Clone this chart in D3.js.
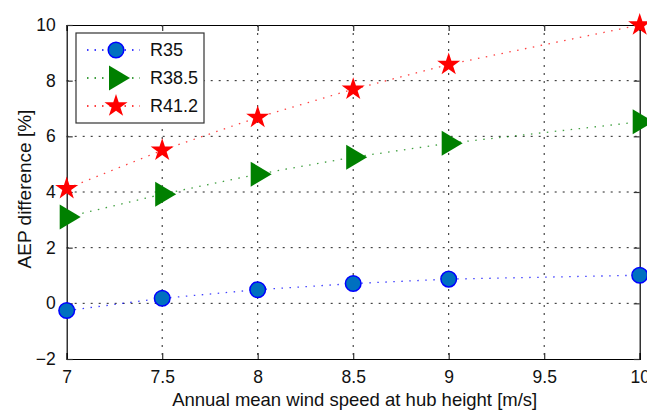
<!DOCTYPE html>
<meta charset="utf-8">
<script src="https://d3js.org/d3.v7.min.js"></script>
<style>
  body { margin: 0; background: #fff; }
  text { font-family: "Liberation Sans", Arial, sans-serif; }
</style>
<div id="my_dataviz"></div>
<script>

// data
var speeds = [7, 7.5, 8, 8.5, 9, 10];
var r35   = [-0.26, 0.18, 0.49, 0.71, 0.87, 1.01];
var r38_5 = [3.1, 3.92, 4.64, 5.25, 5.75, 6.52];
var r41_2 = [4.12, 5.5, 6.68, 7.69, 8.58, 10.0];
var seriesNames = ["R35", "R38.5", "R41.2"];
var xTicks = [7, 7.5, 8, 8.5, 9, 9.5, 10];
var yTicks = [-2, 0, 2, 4, 6, 8, 10];

var W = 647, H = 410;
var margin = {top: 25, right: 7.3, bottom: 51, left: 66.7},
    width = W - margin.left - margin.right,
    height = H - margin.top - margin.bottom;

var svg = d3.select("#my_dataviz")
  .append("svg")
    .attr("width", W)
    .attr("height", H)
  .append("g")
    .attr("transform", "translate(" + margin.left + "," + margin.top + ")");

var x = d3.scaleLinear().domain([7, 10]).range([0, width]);
var y = d3.scaleLinear().domain([-2, 10]).range([height, 0]);

// grid
svg.append("g").selectAll("line")
  .data(xTicks.slice(1, -1))
  .enter().append("line")
    .attr("x1", function(d) { return x(d); })
    .attr("x2", function(d) { return x(d); })
    .attr("y1", 0).attr("y2", height)
    .attr("stroke", "#222").attr("stroke-width", 1)
    .attr("stroke-dasharray", "2,6");
svg.append("g").selectAll("line")
  .data(yTicks.slice(1, -1))
  .enter().append("line")
    .attr("y1", function(d) { return y(d); })
    .attr("y2", function(d) { return y(d); })
    .attr("x1", 0).attr("x2", width)
    .attr("stroke", "#222").attr("stroke-width", 1)
    .attr("stroke-dasharray", "2,6");

// axes, ticks pointing inward on all four sides
var tl = 6;
svg.append("g")
  .attr("transform", "translate(0," + height + ")")
  .call(d3.axisBottom(x).tickValues(xTicks).tickSize(-tl).tickPadding(12).tickFormat(d3.format("")));
svg.append("g")
  .call(d3.axisTop(x).tickValues(xTicks).tickSize(-tl).tickFormat(""));
svg.append("g")
  .call(d3.axisLeft(y).tickValues(yTicks).tickSize(-tl).tickPadding(tl + 5));
svg.append("g")
  .attr("transform", "translate(" + width + ",0)")
  .call(d3.axisRight(y).tickValues(yTicks).tickSize(-tl).tickFormat(""));

svg.selectAll(".domain").attr("stroke", "#000").attr("stroke-width", 1.2);
svg.selectAll(".tick line").attr("stroke", "#333").attr("stroke-width", 1.2);
svg.selectAll(".tick text")
  .attr("font-family", "Liberation Sans, Arial, sans-serif")
  .attr("font-size", "17.5px")
  .attr("fill", "#111");

// series
var series = [
  {name: seriesNames[0], values: r35,   color: "#0000ff", marker: "circle"},
  {name: seriesNames[1], values: r38_5, color: "#008000", marker: "triangle"},
  {name: seriesNames[2], values: r41_2, color: "#ff0000", marker: "star"}
];

var line = d3.line()
  .x(function(d) { return x(d[0]); })
  .y(function(d) { return y(d[1]); });

function drawMarker(g, kind) {
  if (kind === "circle") {
    g.append("circle").attr("r", 7.8)
      .attr("fill", "#0070c0").attr("stroke", "#0000ff").attr("stroke-width", 1.5);
  } else if (kind === "triangle") {
    g.append("path").attr("d", "M-7,-12.5L-7,12.5L14,0Z").attr("fill", "#008000");
  } else {
    g.append("path").attr("d", d3.symbol().type(d3.symbolStar).size(165)())
      .attr("fill", "#ff0000");
  }
}

series.forEach(function(s) {
  var pts = speeds.map(function(v, i) { return [v, s.values[i]]; });
  svg.append("path")
    .datum(pts)
    .attr("d", line)
    .attr("fill", "none")
    .attr("stroke", s.color)
    .attr("stroke-width", 1.3)
    .attr("stroke-opacity", 0.75)
    .attr("stroke-dasharray", "1.5,6.5");
  svg.append("g").selectAll("g")
    .data(pts)
    .enter().append("g")
      .attr("transform", function(d) { return "translate(" + x(d[0]) + "," + y(d[1]) + ")"; })
      .each(function() { drawMarker(d3.select(this), s.marker); });
});

// legend
var legend = svg.append("g").attr("transform", "translate(" + (76 - margin.left) + "," + (33 - margin.top) + ")");
legend.append("rect")
  .attr("width", 128).attr("height", 90)
  .attr("fill", "#fff").attr("stroke", "#333").attr("stroke-width", 1.2);
series.forEach(function(s, i) {
  var gy = 17 + i * 28;
  legend.append("line")
    .attr("x1", 11).attr("x2", 64).attr("y1", gy).attr("y2", gy)
    .attr("stroke", s.color).attr("stroke-width", 1.5)
    .attr("stroke-dasharray", "1.5,6");
  drawMarker(legend.append("g").attr("transform", "translate(40," + gy + ")"), s.marker);
  legend.append("text")
    .attr("x", 74).attr("y", gy).attr("dy", "0.36em")
    .attr("font-size", "18px").attr("fill", "#111")
    .text(s.name);
});

// axis titles
svg.append("text")
  .attr("x", width / 2 + 1.5)
  .attr("y", height + 47)
  .attr("text-anchor", "middle")
  .attr("font-size", "18.5px").attr("fill", "#111")
  .text("Annual mean wind speed at hub height [m/s]");

svg.append("text")
  .attr("transform", "translate(" + (31 - margin.left) + "," + (height / 2 - 3) + ") rotate(-90)")
  .attr("text-anchor", "middle")
  .attr("font-size", "19px").attr("fill", "#111")
  .text("AEP difference [%]");

</script>
